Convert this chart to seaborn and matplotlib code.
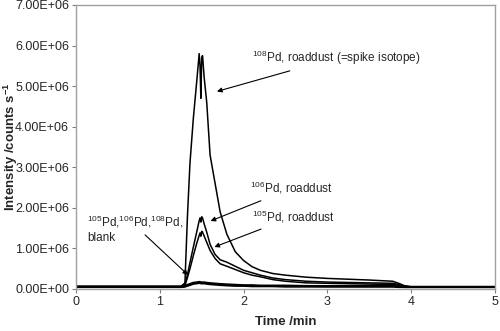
import numpy as np
import pandas as pd
import seaborn as sns
import matplotlib
matplotlib.use("Agg")
import matplotlib.pyplot as plt
from matplotlib.ticker import FormatStrFormatter, MultipleLocator

# time axis (min) and intensities (counts/s, in units of 1e6)
time = [0, 0.5, 1.0, 1.25, 1.3, 1.33, 1.36, 1.40, 1.44, 1.47, 1.48, 1.49, 1.50, 1.51,
        1.53, 1.56, 1.60, 1.66, 1.72, 1.80, 1.90, 2.0, 2.1, 2.2, 2.35, 2.5, 2.75,
        3.0, 3.25, 3.5, 3.78, 3.85, 3.92, 4.0, 4.5, 5.0]

pd108_dust = [0.06, 0.06, 0.06, 0.06, 0.15, 1.8, 3.1, 4.2, 5.1, 5.8, 5.5, 4.7, 5.7, 5.75,
              5.2, 4.6, 3.3, 2.6, 1.9, 1.35, 0.92, 0.7, 0.55, 0.46, 0.38, 0.34, 0.29,
              0.26, 0.24, 0.22, 0.19, 0.14, 0.08, 0.06, 0.06, 0.06]
pd106_dust = [0.05, 0.05, 0.05, 0.05, 0.10, 0.35, 0.65, 1.03, 1.40, 1.68, 1.75, 1.65, 1.78, 1.75,
              1.60, 1.40, 1.10, 0.85, 0.72, 0.66, 0.56, 0.46, 0.40, 0.34, 0.27, 0.23, 0.19,
              0.17, 0.16, 0.15, 0.14, 0.11, 0.07, 0.05, 0.05, 0.05]
pd105_dust = [0.05, 0.05, 0.05, 0.05, 0.09, 0.28, 0.50, 0.82, 1.12, 1.32, 1.38, 1.30, 1.42, 1.40,
              1.30, 1.15, 0.95, 0.75, 0.62, 0.56, 0.48, 0.40, 0.34, 0.30, 0.23, 0.19, 0.15,
              0.14, 0.13, 0.12, 0.11, 0.09, 0.06, 0.05, 0.05, 0.05]
pd108_blank = [0.07, 0.07, 0.07, 0.07, 0.08, 0.11, 0.13, 0.16, 0.17, 0.18, 0.18, 0.17, 0.17, 0.17,
               0.17, 0.16, 0.15, 0.14, 0.13, 0.12, 0.11, 0.10, 0.10, 0.09, 0.09, 0.09, 0.08,
               0.08, 0.08, 0.08, 0.08, 0.07, 0.05, 0.05, 0.05, 0.05]
pd106_blank = [0.05, 0.05, 0.05, 0.05, 0.06, 0.09, 0.11, 0.14, 0.15, 0.16, 0.16, 0.15, 0.15, 0.15,
               0.15, 0.14, 0.13, 0.12, 0.11, 0.10, 0.09, 0.08, 0.08, 0.07, 0.07, 0.07, 0.07,
               0.06, 0.06, 0.06, 0.06, 0.05, 0.04, 0.04, 0.04, 0.04]
pd105_blank = [0.04, 0.04, 0.04, 0.04, 0.05, 0.07, 0.09, 0.12, 0.13, 0.14, 0.14, 0.13, 0.13, 0.13,
               0.13, 0.12, 0.11, 0.10, 0.09, 0.08, 0.07, 0.07, 0.06, 0.06, 0.06, 0.05, 0.05,
               0.05, 0.05, 0.05, 0.05, 0.04, 0.04, 0.04, 0.04, 0.04]

series = {
    "108Pd dust": pd108_dust, "106Pd dust": pd106_dust, "105Pd dust": pd105_dust,
    "108Pd blank": pd108_blank, "106Pd blank": pd106_blank, "105Pd blank": pd105_blank,
}
frames = [pd.DataFrame({"time": time, "intensity": np.array(v) * 1e6, "series": k})
          for k, v in series.items()]
df = pd.concat(frames, ignore_index=True)

sns.set_style("white")
plt.rcParams["font.family"] = ["Liberation Sans", "DejaVu Sans"]
plt.rcParams["mathtext.fontset"] = "custom"
plt.rcParams["mathtext.rm"] = "Liberation Sans"
plt.rcParams["mathtext.bf"] = "Liberation Sans:bold"

fig = plt.figure(figsize=(5, 3.31), dpi=100)
ax = fig.add_axes([0.152, 0.127, 0.838, 0.858])

for name in series:
    sns.lineplot(data=df[df["series"] == name], x="time", y="intensity",
                 color="black", lw=1.1, ax=ax, legend=False)

ax.set_xlim(0, 5)
ax.set_ylim(0, 7e6)
ax.xaxis.set_major_locator(MultipleLocator(1))
ax.yaxis.set_major_locator(MultipleLocator(1e6))
ax.yaxis.set_major_formatter(FormatStrFormatter("%.2E"))
ax.tick_params(labelsize=9, length=3, direction="out", color="#808080",
               left=True, bottom=True, pad=2)
for s in ax.spines.values():
    s.set_color("#a0a0a0")
    s.set_linewidth(1.0)

ax.set_xlabel("Time /min", fontsize=9.5, fontweight="bold", labelpad=6)
ax.set_ylabel(r"Intensity /counts s$^{\mathbf{-1}}$", fontsize=9.5, fontweight="bold",
              va="center")
ax.yaxis.set_label_coords(-0.155, 0.5)

arrow = dict(arrowstyle="-|>", color="black", lw=0.8, mutation_scale=7)
fs = 8.5
ax.annotate(r"$^{108}$Pd, roaddust (=spike isotope)", xy=(1.65, 4.85e6), xytext=(2.1, 5.7e6),
            fontsize=fs, va="center", ha="left", arrowprops=arrow)
ax.annotate(r"$^{106}$Pd, roaddust", xy=(1.575, 1.65e6), xytext=(2.08, 2.48e6),
            fontsize=fs, va="center", ha="left", arrowprops=arrow)
ax.annotate(r"$^{105}$Pd, roaddust", xy=(1.62, 1.01e6), xytext=(2.1, 1.78e6),
            fontsize=fs, va="center", ha="left", arrowprops=arrow)
ax.annotate("", xy=(1.36, 0.3e6), xytext=(0.8, 1.38e6), arrowprops=arrow)
ax.text(0.13, 1.48e6, r"$^{105}$Pd,$^{106}$Pd,$^{108}$Pd," + "\nblank", fontsize=fs,
        va="center", ha="left", linespacing=1.3)

fig.savefig("out.png", dpi=100)
